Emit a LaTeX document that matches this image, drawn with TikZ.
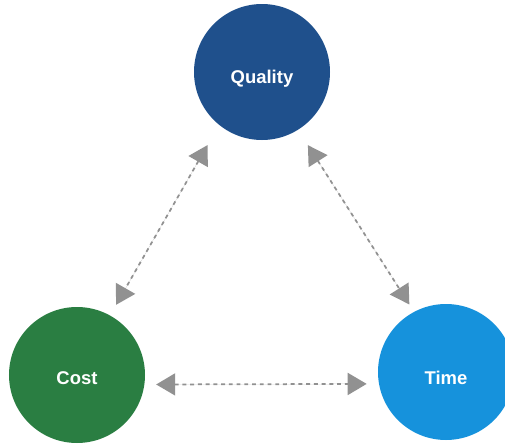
\documentclass[tikz,border=0pt]{standalone}
\usepackage{fontspec}
\setmainfont{Liberation Sans}
\usetikzlibrary{arrows.meta}
\tikzset{>={Triangle[length=3.8mm,width=4.4mm]}}
\definecolor{qualblue}{RGB}{31,80,140}
\definecolor{costgreen}{RGB}{42,126,66}
\definecolor{timeblue}{RGB}{22,146,220}
\definecolor{arrowgrey}{RGB}{145,145,145}
\tikzstyle{ball}=[circle,minimum size=2.72cm,inner sep=0pt,text=white,font=\fontsize{10.5}{12}\selectfont\bfseries]
\tikzstyle{greyline}=[draw=arrowgrey,fill=arrowgrey,line width=0.35mm,dash pattern=on 2.2pt off 2.2pt,<->]
\newcommand{\lowtext}[2]{\raisebox{-#1}[\height][\depth]{#2}}

\begin{document}
\begin{tikzpicture}
    \useasboundingbox (0,0) rectangle (10.1,8.88);

    % The three circles
    \node[ball,fill=qualblue] (quality) at (5.24,7.44) {\lowtext{0.14cm}{Quality}};
    \node[ball,fill=costgreen] (cost) at (1.54,1.38) {\lowtext{0.06cm}{Cost}};
    \node[ball,fill=timeblue] (time) at (8.92,1.44) {\lowtext{0.12cm}{Time}};

    % Dashed two-way arrows
    \draw[greyline,shorten <=0.46cm,shorten >=0.24cm] (quality.231) -- (cost.61);
    \draw[greyline,shorten <=0.36cm,shorten >=0.17cm] (quality.302) -- (time.118);
    \draw[greyline,shorten <=0.23cm,shorten >=0.24cm] (cost.352) -- (time.190);
\end{tikzpicture}
\end{document}
